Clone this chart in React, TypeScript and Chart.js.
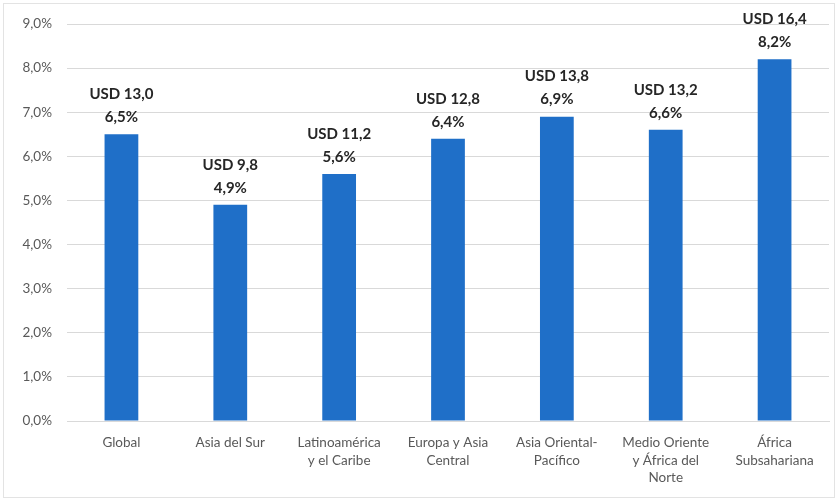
import React, { useEffect, useRef } from "react";
import { Chart, registerables } from "chart.js";

Chart.register(...registerables);

const categories: string[][] = [
  ["Global"],
  ["Asia del Sur"],
  ["Latinoamérica", "y el Caribe"],
  ["Europa y Asia", "Central"],
  ["Asia Oriental-", "Pacífico"],
  ["Medio Oriente", "y África del", "Norte"],
  ["África", "Subsahariana"],
];
const pctValues: number[] = [6.5, 4.9, 5.6, 6.4, 6.9, 6.6, 8.2];
const usdValues: number[] = [13.0, 9.8, 11.2, 12.8, 13.8, 13.2, 16.4];
const yTicks: number[] = [0, 1, 2, 3, 4, 5, 6, 7, 8, 9];

const fmt = (v: number) => v.toFixed(1).replace(".", ",");

const labelPlugin = {
  id: "valueLabels",
  afterDatasetsDraw(chart: any) {
    const ctx = chart.ctx;
    const meta = chart.getDatasetMeta(0);
    ctx.save();
    ctx.fillStyle = "#262626";
    ctx.font = "bold 15px Lato, 'Open Sans', sans-serif";
    ctx.textAlign = "center";
    ctx.textBaseline = "middle";
    meta.data.forEach((bar: any, i: number) => {
      ctx.fillText("USD " + fmt(usdValues[i]), bar.x, bar.y - 40);
      ctx.fillText(fmt(pctValues[i]) + "%", bar.x, bar.y - 17);
    });
    ctx.restore();
  },
};

const framePlugin = {
  id: "frame",
  beforeDraw(chart: any) {
    const ctx = chart.ctx;
    ctx.save();
    ctx.fillStyle = "#ffffff";
    ctx.fillRect(0, 0, chart.width, chart.height);
    ctx.strokeStyle = "#e3e3e3";
    ctx.lineWidth = 1;
    ctx.strokeRect(3.5, 3.5, chart.width - 7, chart.height - 7);
    ctx.restore();
  },
};

export default function App() {
  const ref = useRef<HTMLCanvasElement>(null);
  useEffect(() => {
    document.body.style.margin = "0";
    const chart = new Chart(ref.current!, {
      type: "bar",
      data: {
        labels: categories,
        datasets: [
          {
            data: pctValues,
            backgroundColor: "#1F6FC8",
            categoryPercentage: 1,
            barPercentage: 0.31,
          },
        ],
      },
      options: {
        animation: false,
        responsive: false,
        devicePixelRatio: 1,
        layout: { padding: { left: 0, right: 9, top: 24, bottom: 0 } },
        plugins: { legend: { display: false }, tooltip: { enabled: false } },
        scales: {
          y: {
            min: 0,
            max: 9,
            afterFit: (s: any) => {
              s.width = 67;
            },
            afterBuildTicks: (s: any) => {
              s.ticks = yTicks.map((v) => ({ value: v }));
            },
            border: { display: false },
            grid: { color: "#d9d9d9", drawTicks: false },
            ticks: {
              padding: 15,
              color: "#595959",
              font: { family: "Lato, 'Open Sans', sans-serif", size: 13.5 },
              callback: (v: any) => fmt(Number(v)) + "%",
            },
          },
          x: {
            afterFit: (s: any) => {
              s.height = 80;
            },
            border: { color: "#d9d9d9" },
            grid: { display: false, drawTicks: false },
            ticks: {
              padding: 13,
              maxRotation: 0,
              autoSkip: false,
              color: "#595959",
              font: { family: "Lato, 'Open Sans', sans-serif", size: 13.5, lineHeight: 1.3 },
            },
          },
        },
      },
      plugins: [framePlugin, labelPlugin],
    });
    return () => chart.destroy();
  }, []);
  return <canvas ref={ref} width={838} height={501} style={{ display: "block" }} />;
}
